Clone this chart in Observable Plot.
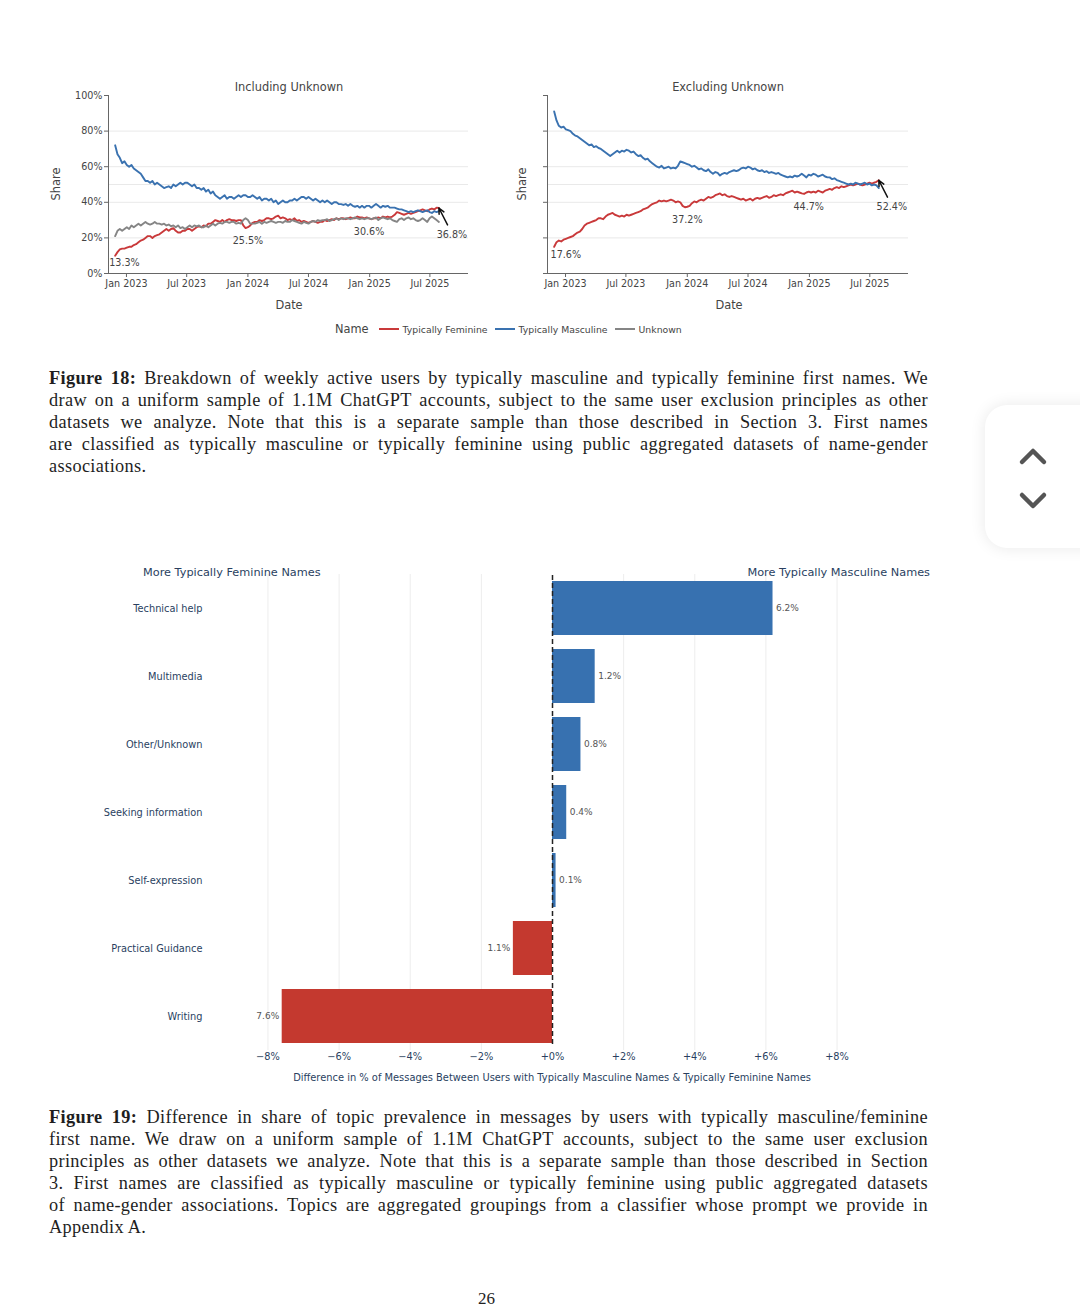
<!DOCTYPE html>
<html><head><meta charset="utf-8">
<script src="https://cdn.jsdelivr.net/npm/d3@7"></script>
<script src="https://cdn.jsdelivr.net/npm/@observablehq/plot@0.6"></script>
<style>
body{margin:0;width:1080px;height:1307px;overflow:hidden;background:#fff;position:relative;font-family:"DejaVu Sans",sans-serif;}
.abs{position:absolute;}
.c{transform:translate(-50%,-50%);white-space:nowrap;}
.t11{font-size:11.4px;color:#444;}
.cap{position:absolute;left:49px;width:879px;font-family:"Liberation Serif",serif;font-size:18.3px;letter-spacing:0.35px;color:#1e1e1e;}
.cap div{height:22px;line-height:22px;white-space:nowrap;text-align:justify;text-align-last:justify;}
.cap div.last{text-align-last:left;}
.leg{position:absolute;top:322px;font-size:9.3px;color:#444;white-space:nowrap;display:flex;align-items:center;}
.sw{display:inline-block;width:20px;height:2px;margin:0 4px 0 0;}
svg{overflow:visible;}
</style></head><body>

<div id="left" class="abs" style="left:40px;top:75px"></div>
<div id="right" class="abs" style="left:500px;top:75px"></div>
<div class="abs c t11" style="left:289px;top:87px">Including Unknown</div>
<div class="abs c t11" style="left:728px;top:87px">Excluding Unknown</div>
<div class="abs c t11" style="left:56px;top:184px;transform:translate(-50%,-50%) rotate(-90deg)">Share</div>
<div class="abs c t11" style="left:522px;top:184px;transform:translate(-50%,-50%) rotate(-90deg)">Share</div>
<div class="abs c t11" style="left:289px;top:305px">Date</div>
<div class="abs c t11" style="left:729px;top:305px">Date</div>
<div id="legend" class="leg" style="left:335px;"></div>

<div class="cap" style="top:367px">
<div><b>Figure 18:</b> Breakdown of weekly active users by typically masculine and typically feminine first names. We</div>
<div>draw on a uniform sample of 1.1M ChatGPT accounts, subject to the same user exclusion principles as other</div>
<div>datasets we analyze. Note that this is a separate sample than those described in Section 3. First names</div>
<div>are classified as typically masculine or typically feminine using public aggregated datasets of name-gender</div>
<div class="last">associations.</div>
</div>

<div id="bars" class="abs" style="left:90px;top:560px"></div>
<div class="abs" style="left:143px;top:566px;font-size:11.3px;color:#2a3f5f;white-space:nowrap">More Typically Feminine Names</div>
<div class="abs" style="right:150px;top:566px;font-size:11.3px;color:#2a3f5f;white-space:nowrap">More Typically Masculine Names</div>
<div class="abs c" style="left:552px;top:1077px;font-size:9.9px;color:#2a3f5f">Difference in % of Messages Between Users with Typically Masculine Names &amp; Typically Feminine Names</div>

<div class="cap" style="top:1106px">
<div><b>Figure 19:</b> Difference in share of topic prevalence in messages by users with typically masculine/feminine</div>
<div>first name. We draw on a uniform sample of 1.1M ChatGPT accounts, subject to the same user exclusion</div>
<div>principles as other datasets we analyze. Note that this is a separate sample than those described in Section</div>
<div>3. First names are classified as typically masculine or typically feminine using public aggregated datasets</div>
<div>of name-gender associations. Topics are aggregated groupings from a classifier whose prompt we provide in</div>
<div class="last">Appendix A.</div>
</div>

<div class="abs" style="left:478px;top:1290px;font-family:'Liberation Serif',serif;font-size:17px;line-height:17px;color:#222">26</div>

<div class="abs" style="left:985px;top:405px;width:130px;height:143px;border-radius:22px;background:#fff;box-shadow:0 0 16px rgba(0,0,0,0.09)">
<svg width="100" height="143" style="position:absolute;left:0;top:0">
<polyline points="37,57 48,46 59,57" fill="none" stroke="#555" stroke-width="4.5" stroke-linecap="round" stroke-linejoin="round"/>
<polyline points="37,90 48,101 59,90" fill="none" stroke="#555" stroke-width="4.5" stroke-linecap="round" stroke-linejoin="round"/>
</svg></div>

<script>
// ---------- Figure 18 data (weekly, starting week of 2022-11-28) ----------
const weekStart = "2022-11-28";
const seriesNames = ["Typically Feminine", "Typically Masculine", "Unknown"];
const seriesColors = ["#c9393a", "#3a72b0", "#858585"];

const masculineIncl = [
 72,67,65,62,63,61,60,61,59,58,
 57,56,54,52,52,51,52,50,51,50,
 49,48,48.5,49,48,50,49,50,51,50,
 51,51,50,49,50,48,48,47,48,46,
 47,45,46,44,43,42,43,44,42,43,
 43,42,43,44,43,44,44,43,43,44,
 43,42,43,41,42,42,41,42,40,41,
 39,40,41,40,40,41,41,42,41,42,
 43,43,42,43,42,41,42,41,40,41,
 40,41,40,39,40,40,39,39,38.5,39,
 38,39,38,37.5,38,37,38,37,38,38,
 37,38,39,38,37,38,37.5,38,37,37,
 37,36.5,36,36,35.5,35,34.5,35,34.5,35,
 35.5,35,34.5,35,35.5,34.5,34,35,34.5,35];

const feminineIncl = [
 10,12,13.5,14,14,14.5,15,15,16,16.5,
 17.5,18.5,19,20,21,21,20,21,21.5,22,
 23,24,25,24,25,25.5,24,23,23,24,
 24,25,25,24,25,26,26.5,26,27,26.5,
 28,28,29,30,29.5,29,30,29,30,30.5,
 30,30,29.5,30,30,27,25.5,26,27,28.5,
 29,29,30,29.5,30,31,31,30.5,31,32,
 32.5,31,31.5,31,30,30.5,30,31,29.5,30,
 29,29.5,29,28.5,29,29.5,29,28.5,29,29,
 30,29.5,30,30.5,30,31,30.5,31,31,30.5,
 31,31.5,31,31,32,31.5,31.5,31,31.5,31,
 30.5,31,31,31.5,31,32,31.5,32,31.5,32,
 33,34.5,34,33.5,33,33.5,34,33.5,34,34.5,
 35,35.5,36,35.5,35,36,36.5,36,37,36.8];

const unknownIncl = [
 21,24,25,24,25,26,25,27,26,27,
 28,27,28,29,28,27.5,28,29,28,28,
 27.5,28,27,27.5,26.5,27,26,27,25.5,26,
 25,26,27,26,27,26.5,27,26,26,27,
 26,27,28,27,28,28.5,28,29,29,28.5,
 29,29,28,28.5,28,30,31,30,28,28,
 28,28.5,29,28,29,28.5,29,29.5,29,28.5,
 29,29,28.5,29.5,29,29,30,29.5,29,28.5,
 28,29,28.5,28,29,29.5,29,30,29.5,30,
 30,30.5,29.5,30,30.5,31,30,31,30.5,31,
 31,30.5,31,31.5,31,30.5,31,30.5,31,31,
 30.5,31,31.5,30,31,31.5,31,30.5,31,30,
 29.5,29,30.5,31,30,31,31.5,30.5,31,30,
 29.5,30,31,30,29,31,32,31,30,29];

const masculineExcl = [
 91,86,83,82,82.5,81,80.5,80,78.5,77.5,
 77,76,75,74,73,72,72.5,71,71.5,70.5,
 70,69,68,67,66,67,68,69,68,69,
 68.5,69.5,69,68,68.5,67,66,66.5,65,64,
 64.5,63,62,61,60,59.5,60.5,59,59.5,60,
 59,59.5,59,60.5,63,62.5,62,61.5,61,60,
 60.5,59.5,58.5,59,58,57.5,58.5,57,56,57,
 56.5,55,56,56.5,56,57,57.5,58,57.5,58,
 59,59.5,59,60,59.5,58.5,59,58,57.5,58,
 57,57.5,56.5,57,56.5,56,56.5,55.5,55,54.5,
 54,54.5,54,55,54.5,55,56,55,54,55.5,
 55,56,55.5,54.5,55,55.5,54.5,54,54,53,
 53.5,52.5,52,51.5,51,50.5,50,50.5,50,51,
 50.5,50,50.5,51,50,50.5,49.5,50,49.5,48];

const feminineExcl = [
 15,17.6,18.5,18,19,19.5,20,20.5,21,22,
 23,23.5,25,27,28,28.5,29,29.5,30,31,
 31,30.5,32,33,33.5,34,33,32.5,32,32.5,
 32,33,32.5,33,33.5,34,34.5,35,36,36.5,
 37,38,39,39.5,40,41,40.5,41,40.5,41,
 41.5,41,40,40.5,40,38,37.2,37.5,38,39.5,
 40.5,40,41,41.5,41,42,43,42.5,43,44,
 44.5,45,44,44.5,43.5,43,43.5,43,42.5,42,
 41.5,42,41,41.5,42,41,42,42.5,42,42.5,
 43,43.5,42.5,43,44,43.5,44,44.5,44,45,
 45.5,46,46.5,45.5,46,45.5,45,44.7,45.5,46,
 45.5,46,45.5,46.5,46,45.5,46.5,47,47.5,47,
 48,48.5,48,49,48.5,49,49.5,50,49.5,50,
 50.5,50,49.5,50,50.5,51,50.5,51,51.5,52.4];

// annotation labels: week index and value
const annInclWeeks = [4, 57, 109];
const annInclValues = [13.3, 25.5, 30.6];
const annExclWeeks = [5, 57, 109];
const annExclValues = [17.6, 37.2, 44.7];
const endInclWeek = 139, endInclValue = 36.8;
const endExclWeek = 139, endExclValue = 52.4;

const xTicks = ["2023-01-01","2023-07-01","2024-01-01","2024-07-01","2025-01-01","2025-07-01"];
const yTicks = [0, 20, 40, 60, 80, 100];
const yGrid = [20, 40, 50, 60, 80];
const xDomain = ["2022-11-08", "2025-10-25"];

// ---------- Figure 19 data ----------
const topics = ["Technical help","Multimedia","Other/Unknown","Seeking information","Self-expression","Practical Guidance","Writing"];
const topicDiff = [6.2, 1.2, 0.8, 0.4, 0.1, -1.1, -7.6];
const diffTicks = [-8, -6, -4, -2, 0, 2, 4, 6, 8];

// ---------- build ----------
const weekDate = i => d3.utcDay.offset(new Date(weekStart + "T00:00:00Z"), 7 * i);
function longRows(list) {
  const rows = [];
  for (const [name, vals] of list) vals.forEach((v, i) => rows.push({name, date: weekDate(i), value: v}));
  return rows;
}
const rowsIncl = longRows([[seriesNames[0], feminineIncl], [seriesNames[1], masculineIncl], [seriesNames[2], unknownIncl]]);
const rowsExcl = longRows([[seriesNames[0], feminineExcl], [seriesNames[1], masculineExcl]]);
const annIncl = annInclWeeks.map((w, i) => ({date: weekDate(w), value: annInclValues[i]}));
const annExcl = annExclWeeks.map((w, i) => ({date: weekDate(w), value: annExclValues[i]}));

function panel(rows, ann, endWeek, endValue, width, marginLeft, showY) {
  const end = {date: weekDate(endWeek), value: endValue};
  return Plot.plot({
    width, height: 245, marginLeft, marginRight: 12, marginTop: 20, marginBottom: 47,
    style: {fontFamily: "DejaVu Sans", fontSize: "9.6px", color: "#444", background: "transparent"},
    x: {type: "utc", domain: xDomain.map(d => new Date(d + "T00:00:00Z"))},
    y: {domain: [0, 100]},
    color: {domain: seriesNames, range: seriesColors},
    marks: [
      Plot.gridY(yGrid, {stroke: "#e9e9e9", strokeOpacity: 1}),
      Plot.axisY(yTicks, {tickSize: 4, tickPadding: 2, label: null, stroke: "#666",
        tickFormat: showY ? (d => d + "%") : (() => "")}),
      Plot.axisX(xTicks.map(d => new Date(d + "T00:00:00Z")), {tickSize: 4, tickPadding: 3, label: null, stroke: "#666",
        tickFormat: d3.utcFormat("%b %Y")}),
      Plot.ruleX([new Date(xDomain[0] + "T00:00:00Z")], {stroke: "#666"}),
      Plot.ruleY([0], {stroke: "#666"}),
      Plot.line(rows, {x: "date", y: "value", z: "name", stroke: "name", strokeWidth: 1.9, curve: "linear"}),
      Plot.text(ann, {x: "date", y: "value", text: d => d.value.toFixed(1) + "%", dy: 13, fill: "#444"}),
      Plot.text([end], {x: "date", y: "value", text: d => d.value.toFixed(1) + "%", dx: 13, dy: 27, fill: "#444"}),
      Plot.arrow([end], {x1: d => d3.utcDay.offset(d.date, 26), y1: d => d.value - 9.5, x2: "date", y2: "value",
        stroke: "#111", strokeWidth: 1.5, headLength: 9, headAngle: 50})
    ]
  });
}

document.getElementById("left").append(panel(rowsIncl, annIncl, endInclWeek, endInclValue, 440, 68, true));
document.getElementById("right").append(panel(rowsExcl, annExcl, endExclWeek, endExclValue, 420, 47, false));

// legend
const leg = document.getElementById("legend");
leg.innerHTML = `<span style="font-size:11.4px;margin-right:10px">Name</span>` +
  seriesNames.map((n, i) => `<span class="sw" style="background:${seriesColors[i]}"></span><span style="margin-right:7px">${n}</span>`).join("");

// bars
const bars = topics.map((t, i) => ({topic: t, value: topicDiff[i], side: topicDiff[i] > 0 ? "Masculine" : "Feminine"}));
const fmt = d => d > 0 ? "+" + d + "%" : d < 0 ? "\u2212" + Math.abs(d) + "%" : "+0%";
const barChart = Plot.plot({
  width: 850, height: 530, marginLeft: 117, marginRight: 43, marginTop: 14, marginBottom: 40,
  style: {fontFamily: "DejaVu Sans", fontSize: "9.8px", color: "#2a3f5f", background: "transparent"},
  x: {domain: [-9.7, 9.7]},
  y: {domain: topics, paddingInner: 0.2, paddingOuter: 0.1},
  color: {domain: ["Masculine", "Feminine"], range: ["#3771b0", "#c4392f"]},
  marks: [
    Plot.gridX(diffTicks.filter(d => d !== 0), {stroke: "#ededed", strokeOpacity: 1}),
    Plot.barX(bars, {x: "value", y: "topic", fill: "side"}),
    Plot.ruleX([0], {stroke: "#222", strokeWidth: 1.5, strokeDasharray: "5,3", insetTop: 1, insetBottom: 5}),
    Plot.text(bars.filter(d => d.value > 0), {x: "value", y: "topic", text: d => Math.abs(d.value).toFixed(1) + "%",
      textAnchor: "start", dx: 3, fill: "#555", fontSize: 9}),
    Plot.text(bars.filter(d => d.value < 0), {x: "value", y: "topic", text: d => Math.abs(d.value).toFixed(1) + "%",
      textAnchor: "end", dx: -3, fill: "#555", fontSize: 9}),
    Plot.axisX(diffTicks, {tickSize: 0, tickPadding: 3, label: null, tickFormat: fmt}),
    Plot.axisY({tickSize: 0, tickPadding: 5, label: null})
  ]
});
document.getElementById("bars").append(barChart);
</script>
</body></html>
